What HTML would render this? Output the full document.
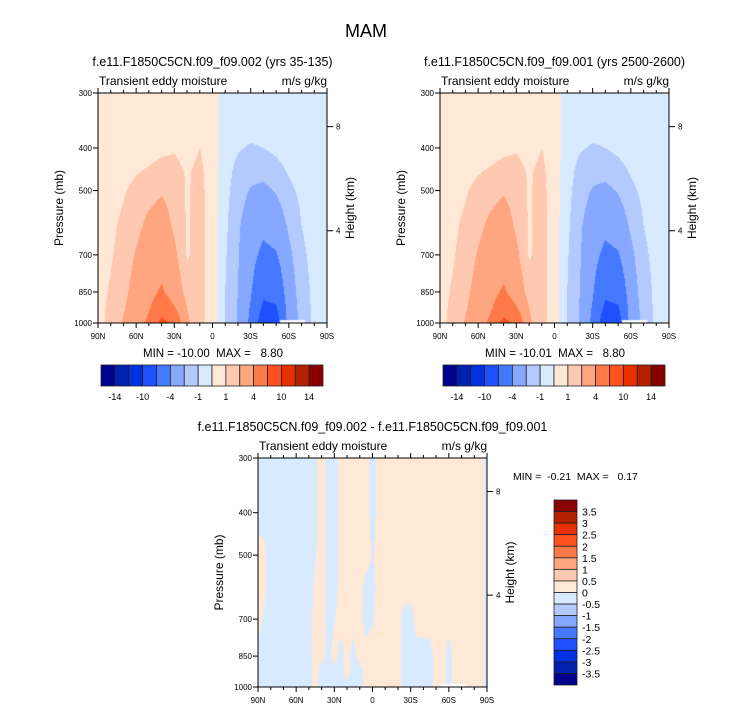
<!DOCTYPE html>
<html><head><meta charset="utf-8">
<style>
body{margin:0;background:#fff;}
#wrap{position:relative;width:733px;height:712px;overflow:hidden;font-family:"Liberation Sans",sans-serif;}
canvas{position:absolute;left:0;top:0;}
svg{position:absolute;left:0;top:0;}
text{font-family:"Liberation Sans",sans-serif;fill:#000;white-space:pre;}
</style></head>
<body>
<div id="wrap">
<canvas id="cv" width="733" height="712"></canvas>
<svg id="sv" width="733" height="712"></svg>
</div>
<script>
// ---- data ----
const lats1 = [90,80,70,60,50,40,30,20,10,0,-10,-20,-30,-40,-50,-60,-70,-80,-90];
const pres1 = [300,350,400,450,500,600,700,850,925,1000];
const field1 = [
 [0.5,0.5,0.5,0.5,0.5,0.5,0.5,0.5,0.5,0.5,-0.5,-0.5,-0.5,-0.5,-0.5,-0.5,-0.5,-0.5,-0.5],
 [0.5,0.5,0.5,0.5,0.5,0.5,0.5,0.5,0.5,0.5,-0.5,-0.5,-0.6,-0.6,-0.5,-0.5,-0.5,-0.5,-0.5],
 [0.5,0.5,0.5,0.5,0.6,0.8,0.9,0.6,1.0,0.5,-0.5,-0.9,-1.1,-1.0,-0.8,-0.6,-0.5,-0.5,-0.5],
 [0.5,0.5,0.6,0.9,1.1,1.3,1.3,0.9,1.2,0.5,-0.6,-1.3,-1.6,-1.6,-1.3,-0.9,-0.6,-0.5,-0.5],
 [0.5,0.6,0.9,1.3,1.6,1.9,1.6,0.9,1.3,0.5,-0.7,-1.5,-2.1,-2.3,-1.9,-1.2,-0.8,-0.5,-0.5],
 [0.6,0.8,1.2,1.7,2.3,2.6,1.8,0.9,1.3,0.5,-0.8,-1.8,-2.8,-3.4,-2.9,-1.8,-1.0,-0.6,-0.5],
 [0.6,0.9,1.4,2.1,2.7,3.0,2.3,0.9,1.4,0.5,-0.9,-1.9,-3.2,-4.6,-4.2,-2.3,-1.2,-0.7,-0.5],
 [0.7,1.1,1.7,2.5,3.3,4.3,3.0,1.5,1.4,0.5,-1.0,-2.0,-3.8,-6.4,-6.0,-2.8,-1.4,-0.8,-0.5],
 [0.7,1.2,1.9,2.7,3.8,5.5,4.2,2.0,1.4,0.5,-1.0,-2.1,-4.2,-7.6,-7.3,-3.0,-1.5,-0.8,-0.5],
 [0.7,1.3,2.1,2.9,4.5,8.0,6.0,2.2,1.3,0.5,-1.0,-2.1,-4.5,-9.2,-8.5,-3.1,-1.6,-0.8,-0.5]
];
const field2 = field1;
const lats3 = [90,85,80,75,70,65,60,55,50,45,40,35,30,25,20,15,10,5,0,-5,-10,-15,-20,-25,-30,-35,-40,-45,-50,-55,-60,-65,-70,-75,-80,-85,-90];
const pres3 = [300,400,500,600,700,850,925,1000];
const field3 = [
 [-.1,-.1,-.1,-.1,-.1,-.1,-.1,-.1,-.1,-.05,.1,-.1,-.1,.1,.1,.1,.1,.1,-.1,.1,.1,.1,.1,.1,.1,.1,.1,.1,.1,.1,.1,.1,.1,.1,.1,.1,-.1],
 [-.1,-.1,-.1,-.1,-.1,-.1,-.1,-.1,-.1,-.05,.1,-.1,-.1,.1,.1,.1,.1,.1,-.1,.1,.1,.1,.1,.1,.1,.1,.1,.1,.1,.1,.1,.1,.1,.1,.1,.1,-.1],
 [.1,.05,-.1,-.1,-.1,-.1,-.1,-.1,-.1,-.02,.1,-.1,-.1,.1,.1,.1,.1,.1,-.02,.1,.1,.1,.1,.1,.1,.1,.1,.1,.1,.1,.1,.1,.1,.1,.1,.1,-.1],
 [.1,.05,-.1,-.1,-.1,-.1,-.1,-.1,-.1,.05,.1,-.1,-.1,.1,.1,.1,.1,-.1,-.1,.1,.1,.1,.1,.1,.1,.1,.1,.1,.1,.1,.1,.1,.1,.1,.1,.1,-.1],
 [.1,-.05,-.1,-.1,-.1,-.1,-.1,-.1,-.1,.1,.1,-.1,-.02,.1,.1,.1,.1,-.1,-.02,.1,.1,.1,.1,-.1,-.1,.1,.1,.1,.1,.1,.1,.1,.1,.1,.1,.1,-.1],
 [-.1,-.1,-.1,-.1,-.1,-.1,-.1,-.1,-.1,.1,.1,-.1,.1,-.1,.1,-.1,.1,.1,.1,.1,.1,.1,.1,-.1,-.1,-.1,-.1,-.1,.1,.1,-.1,.1,.1,.1,.1,.1,-.1],
 [-.1,-.1,-.1,-.1,-.1,-.1,-.1,-.1,-.1,.1,-.1,-.1,-.1,-.1,.1,-.1,-.1,.1,.1,.1,.1,.1,.1,-.1,-.1,-.1,-.1,-.1,.1,.1,-.1,.1,.1,.1,.1,.1,-.1],
 [-.1,-.1,-.1,-.1,-.1,-.1,-.1,-.1,-.1,.1,-.1,-.1,-.1,-.1,-.1,-.1,-.1,.1,.1,.1,.1,.1,.1,-.1,-.1,-.1,-.1,-.1,.1,.1,-.1,.1,.1,.1,.1,.1,-.1]
];
const levels1 = [-14,-12,-10,-7,-4,-2,-1,0,1,2,4,7,10,12,14];
const levels3 = [-3.5,-3,-2.5,-2,-1.5,-1,-0.5,0,0.5,1,1.5,2,2.5,3,3.5];
const cbLabels1 = ["-14","-10","-4","-1","1","4","10","14"];
const cbLabels3 = ["3.5","3","2.5","2","1.5","1","0.5","0","-0.5","-1","-1.5","-2","-2.5","-3","-3.5"];
const colors = ["#000090","#0020b0","#0030e0","#1e50ff","#4478ff","#86a8ff","#b4caff","#d8eaff","#ffe8d6","#ffc8b0","#ffa680","#ff7a48","#ff5020","#e63000","#b42000","#8a0000"];
const pTicks = [300,400,500,700,850,1000];
const latTicks = [90,60,30,0,-30,-60,-90];
const latTickLabels = ["90N","60N","30N","0","30S","60S","90S"];
const hTicks = [8,4];

// ---- helpers ----
const NS="http://www.w3.org/2000/svg";
const sv=document.getElementById('sv');
const ctx=document.getElementById('cv').getContext('2d');
function mk(tag,attrs,parent){const e=document.createElementNS(NS,tag);for(const k in attrs)e.setAttribute(k,attrs[k]);(parent||sv).appendChild(e);return e;}
function txt(x,y,s,size,anchor,rot,name){const e=mk('text',{x:x,y:y,'font-size':size,'text-anchor':anchor||'start'});if(rot)e.setAttribute('transform','rotate(-90 '+x+' '+y+')');e.textContent=s;


return e;}
function lvlColor(v,levels){let i=0;while(i<levels.length&&v>=levels[i])i++;return colors[i];}
function interp(arr,x){
 for(let i=0;i<arr.length-1;i++){if(x>=arr[i]&&x<=arr[i+1])return i+(x-arr[i])/(arr[i+1]-arr[i]);}
 return x<arr[0]?0:arr.length-1;}

function panel(P){
 const {x0,x1,y0,y1,lats,pres,field,levels}=P;
 const W=x1-x0,H=y1-y0;
 const xs=l=>x0+(90-l)/180*W;
 const ys=p=>y0+Math.log(p/300)/Math.log(1000/300)*H;
 const negL=lats.map(l=>-l);
 const lnP=pres.map(p=>Math.log(p));
 for(let px=0;px<W;px++){
  const lat=90-(px+0.5)/W*180;
  const fi=interp(negL,-lat);const i0=Math.min(Math.floor(fi),lats.length-2);const tx=fi-i0;
  for(let py=0;py<H;py++){
   const p=300*Math.exp((py+0.5)/H*Math.log(1000/300));
   const fj=interp(lnP,Math.log(p));const j0=Math.min(Math.floor(fj),pres.length-2);const ty=fj-j0;
   const v=(1-tx)*(1-ty)*field[j0][i0]+tx*(1-ty)*field[j0][i0+1]+(1-tx)*ty*field[j0+1][i0]+tx*ty*field[j0+1][i0+1];
   ctx.fillStyle=lvlColor(v,levels);ctx.fillRect(x0+px,y0+py,1,1);
  }
 }
 ctx.fillStyle="#fff";ctx.fillRect(xs(-53),ys(985),xs(-73)-xs(-53),y1-ys(985));
 const g=mk('g',{});
 
 
 mk('rect',{x:x0,y:y0,width:W,height:H,fill:'none',stroke:'#000','stroke-width':1},g);
 for(let l=90;l>=-90;l-=10){const x=xs(l);const maj=(l%30===0);const len=maj?5:3;
  mk('line',{x1:x,x2:x,y1:y1,y2:y1+len,stroke:'#000'},g);mk('line',{x1:x,x2:x,y1:y0,y2:y0-len,stroke:'#000'},g);}
 latTicks.forEach((l,i)=>{txt(xs(l),y1+16,latTickLabels[i],8,'middle',0,'x-tick-label');});
 pTicks.forEach(p=>{const y=ys(p);mk('line',{x1:x0-5,x2:x0,y1:y,y2:y,stroke:'#000'},g);txt(x0-6,y+3,String(p),8,'end',0,'y-tick-label');});
 hTicks.forEach(h=>{const p=1064*Math.exp(-h/7.34);const y=ys(p);mk('line',{x1:x1,x2:x1+6,y1:y,y2:y,stroke:'#000'},g);txt(x1+9,y+3,String(h),8,'start',0,'height-tick-label');});
 txt(x0-35,(y0+y1)/2,'Pressure (mb)',12,'middle',true,'y-axis-title');
 txt(x1+27,(y0+y1)/2,'Height (km)',12,'middle',true,'right-axis-title');
 txt(x0+1,y0-8,'Transient eddy moisture',12,'start',0,'left-subtitle');
 txt(x1,y0-8,'m/s g/kg',12,'end',0,'right-subtitle');
 txt((x0+x1)/2,y0-27,P.title,12.5,'middle',0,'panel-title');
}
function hbar(x0,x1,y0,y1){
 const w=(x1-x0)/colors.length;
 colors.forEach((c,i)=>{const r=mk('rect',{x:x0+i*w,y:y0,width:w,height:y1-y0,fill:c,stroke:'#222','stroke-width':0.8});
  });
 cbLabels1.forEach((s,k)=>{txt(x0+(2*k+1)*w,y1+14,s,9,'middle',0,'colorbar-label');});
}
function vbar(x0,x1,y0,y1){
 const h=(y1-y0)/colors.length;
 colors.slice().reverse().forEach((c,i)=>{const r=mk('rect',{x:x0,y:y0+i*h,width:x1-x0,height:h,fill:c,stroke:'#222','stroke-width':0.8});
  });
 cbLabels3.forEach((s,k)=>{txt(x1+5,y0+(k+1)*h+4,s,10.5,'start',0,'colorbar-label');});
}

txt(366,37,'MAM',18,'middle',0,'figure-title');
panel({name:'panel-case1',x0:98,x1:327,y0:93,y1:323,lats:lats1,pres:pres1,field:field1,levels:levels1,title:'f.e11.F1850C5CN.f09_f09.002 (yrs 35-135)'});
panel({name:'panel-case2',x0:440,x1:669,y0:93,y1:323,lats:lats1,pres:pres1,field:field2,levels:levels1,title:'f.e11.F1850C5CN.f09_f09.001 (yrs 2500-2600)'});
panel({name:'panel-difference',x0:258,x1:487,y0:458,y1:687,lats:lats3,pres:pres3,field:field3,levels:levels3,title:'f.e11.F1850C5CN.f09_f09.002 - f.e11.F1850C5CN.f09_f09.001'});
txt(213,357,'MIN = -10.00  MAX =   8.80',11.5,'middle',0,'minmax-case1');
txt(555,357,'MIN = -10.01  MAX =   8.80',11.5,'middle',0,'minmax-case2');
txt(513,480,'MIN =  -0.21  MAX =   0.17',10.5,'start',0,'minmax-difference');
hbar(101,323,365,386);
hbar(443,665,365,386);
vbar(554,577,500,685);
</script>
</body></html>
